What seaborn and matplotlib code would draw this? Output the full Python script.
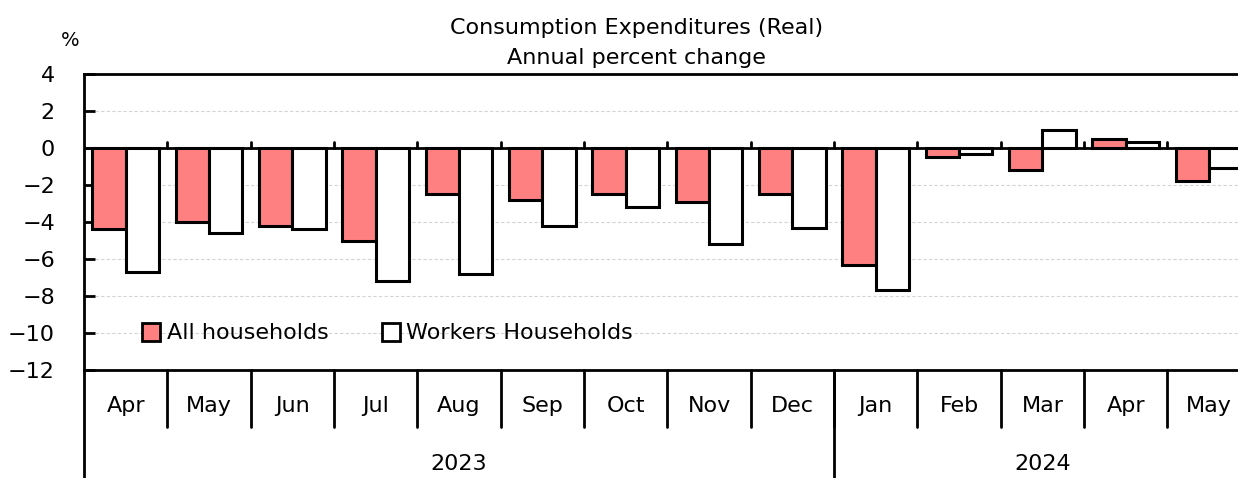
import numpy as np
import pandas as pd
import matplotlib as mpl
mpl.use("Agg")
import matplotlib.pyplot as plt
import matplotlib.patches as mpatches
import matplotlib.transforms as mtransforms
import seaborn as sns

# data
months = ["Apr", "May", "Jun", "Jul", "Aug", "Sep", "Oct", "Nov", "Dec",
          "Jan", "Feb", "Mar", "Apr", "May"]
years = ["2023"] * 9 + ["2024"] * 5
all_households = [-4.4, -4.0, -4.2, -5.0, -2.5, -2.8, -2.5, -2.9, -2.5,
                  -6.3, -0.5, -1.2, 0.5, -1.8]
workers_households = [-6.7, -4.6, -4.4, -7.2, -6.8, -4.2, -3.2, -5.2, -4.3,
                      -7.7, -0.3, 1.0, 0.3, -1.1]
series_names = ["All households", "Workers Households"]
colors = ["#FF8080", "#FFFFFF"]

keys = [f"{y}-{m}" for y, m in zip(years, months)]
df = pd.DataFrame({
    "key": keys * 2,
    "value": all_households + workers_households,
    "series": [series_names[0]] * len(keys) + [series_names[1]] * len(keys),
})

sns.set_style("white")
plt.rcParams["font.family"] = ["DejaVu Sans"]
plt.rcParams["text.color"] = "black"
plt.rcParams["ytick.color"] = "black"
plt.rcParams["ytick.labelcolor"] = "black"
FS = 16

fig = plt.figure(figsize=(12.38, 4.78), dpi=100)
ax = fig.add_axes([0.0679, 0.2259, 1.0103 - 0.0679, 0.6192])

sns.barplot(data=df, x="key", y="value", hue="series", order=keys,
            hue_order=series_names, palette=colors, saturation=1,
            edgecolor="black", linewidth=2.2, width=0.8, gap=0,
            legend=False, ax=ax, zorder=3)

n = len(keys)
ax.set_xlim(-0.5, n - 0.5)
ax.set_ylim(-12, 4)
ax.set_yticks(np.arange(-12, 5, 2))
ax.yaxis.grid(True, color="#d4d4d4", linestyle=(0, (3, 2)), linewidth=0.8)
ax.set_axisbelow(True)
ax.tick_params(axis="y", direction="in", length=8, width=2, pad=21,
               labelsize=FS, left=True)
ax.set_xticks([])
ax.set_xlabel("")
ax.set_ylabel("")
for s in ["left", "top", "bottom"]:
    ax.spines[s].set_color("black")
    ax.spines[s].set_linewidth(2)
ax.spines["right"].set_visible(False)

# zero line with small ticks between months
ax.axhline(0, color="black", linewidth=2, zorder=4)
for b in np.arange(0.5, n - 0.5, 1.0):
    ax.plot([b, b], [0, 0.35], color="black", linewidth=2, zorder=4)

# hierarchical category labels below the axes
trans = mtransforms.blended_transform_factory(ax.transData, ax.transAxes)
for i, m in enumerate(months):
    ax.text(i, -0.12, m, transform=trans, ha="center", va="center", fontsize=FS)
for b in np.arange(0.5, n - 0.5, 1.0):
    ax.plot([b, b], [0, -0.193], transform=trans, color="black",
            linewidth=2, clip_on=False)
ax.plot([-0.5, -0.5], [0, -0.4], transform=trans, color="black",
        linewidth=2, clip_on=False)
ax.plot([8.5, 8.5], [0, -0.4], transform=trans, color="black",
        linewidth=2, clip_on=False)
ax.text(4, -0.318, "2023", transform=trans, ha="center", va="center", fontsize=FS)
ax.text(11, -0.318, "2024", transform=trans, ha="center", va="center", fontsize=FS)

handles = [mpatches.Patch(facecolor=c, edgecolor="black", linewidth=2, label=l)
           for c, l in zip(colors, series_names)]
ax.legend(handles=handles, loc="center left", bbox_to_anchor=(0.05, 0.125),
          ncol=2, frameon=False, fontsize=FS, handlelength=0.8,
          handleheight=0.9, handletextpad=0.3, columnspacing=2.4,
          borderpad=0, borderaxespad=0)

fig.text(0.514, 1 - 28 / 478, "Consumption Expenditures (Real)",
         ha="center", va="center", fontsize=FS)
fig.text(0.514, 1 - 58 / 478, "Annual percent change",
         ha="center", va="center", fontsize=FS)
fig.text(70 / 1238, 1 - 40 / 478, "%", ha="center", va="center", fontsize=FS - 2)

fig.savefig("out.png", dpi=100)
